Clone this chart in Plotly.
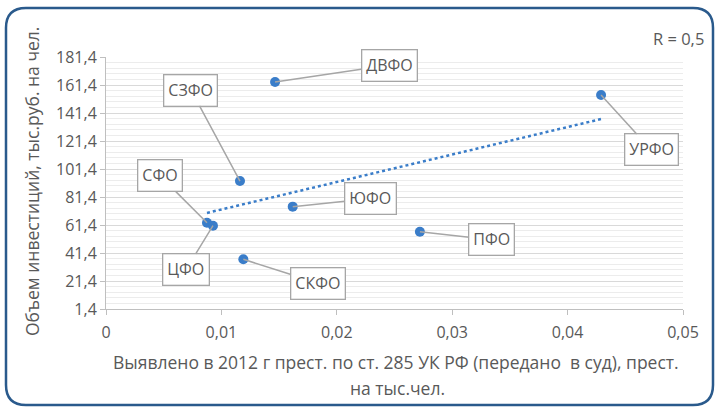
import numpy as np
import plotly.graph_objects as go

# ---- data ----
districts = ["ДВФО", "СЗФО", "УРФО", "СФО", "ЦФО", "ЮФО", "СКФО", "ПФО"]
crimes_per_k = [0.01465, 0.01161, 0.0429, 0.00875, 0.00927, 0.01618, 0.0119, 0.0272]
invest_per_cap = [163.5, 92.8, 154.3, 63.0, 60.9, 74.5, 36.9, 56.6]
x_ticks = [0, 0.01, 0.02, 0.03, 0.04, 0.05]
x_tick_labels = ["0", "0,01", "0,02", "0,03", "0,04", "0,05"]
y_ticks = [1.4, 21.4, 41.4, 61.4, 81.4, 101.4, 121.4, 141.4, 161.4, 181.4]
y_tick_labels = ["1,4", "21,4", "41,4", "61,4", "81,4", "101,4", "121,4", "141,4", "161,4", "181,4"]
r_text = "R = 0,5"

# label offsets (pixels) for callouts
label_offsets = [(114, -17), (-49, -91), (50, 55), (-47, -47), (-27, 44), (78, -8), (75, 24), (72, 8)]

W, H = 715, 408
L, R, T, B = 106, 32, 57, 99
PW, PH = W - L - R, H - T - B

def px(xp):
    return (xp - L) / PW

def py(yp):
    return (H - B - yp) / PH

TXT = "#595959"
FONT = "Open Sans"
BLUE = "#3A7DC9"

# trend line (least squares)
xs = np.array(crimes_per_k)
ys = np.array(invest_per_cap)
k, b = np.polyfit(xs, ys, 1)
tx = np.array([xs.min(), xs.max()])
ty = k * tx + b

fig = go.Figure()
fig.add_trace(go.Scatter(x=tx, y=ty, mode="lines",
                         line=dict(color=BLUE, width=2.5, dash="dot"),
                         hoverinfo="skip", showlegend=False))
fig.add_trace(go.Scatter(x=crimes_per_k, y=invest_per_cap, mode="markers",
                         marker=dict(color=BLUE, size=10),
                         text=districts, showlegend=False))

annotations = []
for name, x, y, (ax, ay) in zip(districts, crimes_per_k, invest_per_cap, label_offsets):
    annotations.append(dict(
        x=x, y=y, xref="x", yref="y", ax=ax, ay=ay, axref="pixel", ayref="pixel",
        text=name, showarrow=True, arrowhead=0, arrowwidth=1.5, arrowcolor="#A6A6A6",
        standoff=0, startstandoff=0,
        bgcolor="white", bordercolor="#A6A6A6", borderwidth=1.3, borderpad=4,
        font=dict(family=FONT, size=16, color=TXT)))

annotations.append(dict(x=px(678), y=py(38), xref="paper", yref="paper", text=r_text,
                        showarrow=False, xanchor="center", yanchor="middle",
                        font=dict(family=FONT, size=16.5, color=TXT)))
annotations.append(dict(x=px(396), y=py(362), xref="paper", yref="paper",
                        text="Выявлено в 2012 г прест. по ст. 285 УК РФ (передано  в суд), прест.",
                        showarrow=False, xanchor="center", yanchor="middle",
                        font=dict(family=FONT, size=17.5, color=TXT)))
annotations.append(dict(x=px(397), y=py(388), xref="paper", yref="paper",
                        text="на тыс.чел.",
                        showarrow=False, xanchor="center", yanchor="middle",
                        font=dict(family=FONT, size=17.5, color=TXT)))
annotations.append(dict(x=px(32), y=py(182), xref="paper", yref="paper",
                        text="Объем инвестиций, тыс.руб. на чел.", textangle=-90,
                        showarrow=False, xanchor="center", yanchor="middle",
                        font=dict(family=FONT, size=17.5, color=TXT)))

# rounded border
x0, x1, y0, y1, r = 6, 713, 8, 405, 20
def P(xp, yp):
    return f"{px(xp)},{py(yp)}"
path = (f"M {P(x0 + r, y0)} L {P(x1 - r, y0)} Q {P(x1, y0)} {P(x1, y0 + r)} "
        f"L {P(x1, y1 - r)} Q {P(x1, y1)} {P(x1 - r, y1)} "
        f"L {P(x0 + r, y1)} Q {P(x0, y1)} {P(x0, y1 - r)} "
        f"L {P(x0, y0 + r)} Q {P(x0, y0)} {P(x0 + r, y0)} Z")

fig.update_layout(
    width=W, height=H, margin=dict(l=L, r=R, t=T, b=B),
    paper_bgcolor="white", plot_bgcolor="white",
    font=dict(family=FONT, color=TXT),
    annotations=annotations,
    shapes=[dict(type="path", path=path, xref="paper", yref="paper",
                 line=dict(color="#2A5A8C", width=2.5), layer="above")],
    xaxis=dict(range=[0, 0.05], tickvals=x_ticks, ticktext=x_tick_labels,
               showgrid=False, zeroline=False, showline=True, linecolor="#BFBFBF",
               ticks="outside", ticklen=5, tickcolor="#BFBFBF",
               tickfont=dict(family=FONT, size=16, color=TXT), ticklabelstandoff=4),
    yaxis=dict(range=[1.4, 181.4], tickvals=y_ticks, ticktext=y_tick_labels,
               showgrid=True, gridcolor="#D9D9D9", gridwidth=1,
               zeroline=False, showline=True, linecolor="#BFBFBF",
               ticks="outside", ticklen=5, tickcolor="#BFBFBF",
               tickfont=dict(family=FONT, size=16, color=TXT),
               minor=dict(dtick=4, tick0=1.4, showgrid=True, gridcolor="#ECECEC", gridwidth=1)),
)

fig.write_html("out.html", config={"displayModeBar": False},
               post_script="document.body.style.margin='0px';")
